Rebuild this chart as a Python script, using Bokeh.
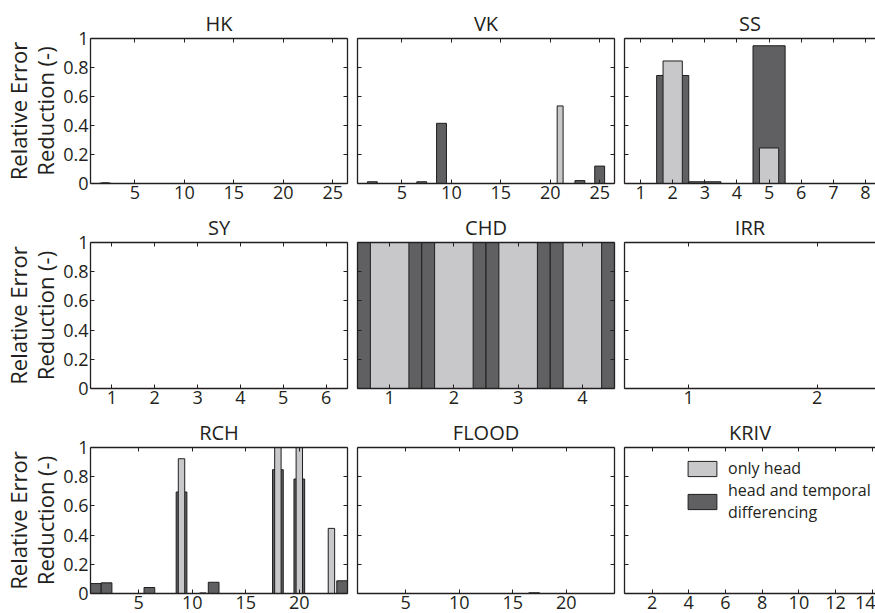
from bokeh.plotting import figure
from bokeh.models import (Range1d, FixedTicker, LinearAxis, CustomJSTickFormatter,
                          Legend, LegendItem)
from bokeh.layouts import row, column
from bokeh.embed import file_html
from bokeh.resources import INLINE

# ---------------- data ----------------
panel_names = ["HK", "VK", "SS", "SY", "CHD", "IRR", "RCH", "FLOOD", "KRIV"]
series_names = ["only head", "head and temporal\ndifferencing"]

hk_head = [0, 0.003, 0, 0, 0, 0, 0, 0, 0, 0, 0, 0, 0, 0, 0, 0, 0, 0, 0, 0, 0, 0, 0, 0, 0, 0]
hk_diff = [0, 0.004, 0, 0, 0, 0, 0, 0, 0, 0, 0, 0, 0, 0, 0, 0, 0, 0, 0, 0, 0, 0, 0, 0, 0, 0]

vk_head = [0, 0, 0, 0, 0, 0, 0, 0, 0, 0, 0, 0, 0, 0, 0, 0, 0, 0, 0, 0, 0.535, 0, 0, 0, 0, 0]
vk_diff = [0, 0.012, 0, 0, 0, 0, 0.012, 0, 0.415, 0, 0, 0, 0, 0, 0, 0, 0, 0, 0, 0, 0, 0, 0.02, 0, 0.12, 0]

ss_head = [0, 0.845, 0, 0, 0.245, 0, 0, 0]
ss_diff = [0, 0.745, 0.012, 0, 0.95, 0, 0, 0]

sy_head = [0, 0, 0, 0, 0, 0]
sy_diff = [0, 0, 0, 0, 0, 0]

chd_head = [1, 1, 1, 1]
chd_diff = [1, 1, 1, 1]

irr_head = [0, 0]
irr_diff = [0, 0]

rch_head = [0, 0, 0, 0, 0, 0, 0, 0, 0.923, 0, 0.004, 0, 0, 0, 0, 0, 0, 1.0, 0, 1.0, 0, 0, 0.446, 0]
rch_diff = [0.068, 0.073, 0, 0, 0, 0.041, 0, 0, 0.695, 0, 0, 0.077, 0, 0, 0, 0, 0, 0.848, 0, 0.784, 0, 0, 0, 0.087]

flood_head = [0, 0, 0, 0, 0, 0, 0, 0, 0, 0, 0, 0, 0, 0, 0, 0, 0, 0, 0, 0, 0, 0, 0, 0]
flood_diff = [0, 0, 0, 0, 0, 0, 0, 0, 0, 0, 0, 0, 0, 0, 0, 0, 0.005, 0, 0, 0, 0, 0, 0, 0]

kriv_head = [0, 0, 0, 0, 0, 0, 0, 0, 0, 0, 0, 0, 0, 0]
kriv_diff = [0, 0, 0, 0, 0, 0, 0, 0, 0, 0, 0, 0, 0, 0]

hk_ticks = [5, 10, 15, 20, 25]
vk_ticks = [5, 10, 15, 20, 25]
ss_ticks = [1, 2, 3, 4, 5, 6, 7, 8]
sy_ticks = [1, 2, 3, 4, 5, 6]
chd_ticks = [1, 2, 3, 4]
irr_ticks = [1, 2]
rch_ticks = [5, 10, 15, 20]
flood_ticks = [5, 10, 15, 20]
kriv_ticks = [2, 4, 6, 8, 10, 12, 14]
y_ticks = [0, 0.2, 0.4, 0.6, 0.8, 1]

panel_head = [hk_head, vk_head, ss_head, sy_head, chd_head, irr_head, rch_head, flood_head, kriv_head]
panel_diff = [hk_diff, vk_diff, ss_diff, sy_diff, chd_diff, irr_diff, rch_diff, flood_diff, kriv_diff]
panel_ticks = [hk_ticks, vk_ticks, ss_ticks, sy_ticks, chd_ticks, irr_ticks, rch_ticks, flood_ticks, kriv_ticks]

# ---------------- styling ----------------
FONT = "Open Sans"
TXT = "#231f20"
LIGHT = "#c8c8ca"
DARK = "#606062"
EDGE = "#1e1e1e"
AXC = "#231f20"

FRAME_W = 257
COL3_W = 251
frame_h = [145, 147, 147]
top_b = [38, 31, 31]
bot_b = [27, 27, 27]

fmt_y = CustomJSTickFormatter(code="return String(Math.round(tick*10)/10);")
fmt_blank = CustomJSTickFormatter(code="return '';")


def style_axis(ax, ticks, labels):
    ax.ticker = FixedTicker(ticks=ticks)
    ax.major_tick_in = 4
    ax.major_tick_out = 0
    ax.minor_tick_in = 0
    ax.minor_tick_out = 0
    ax.axis_line_color = AXC
    ax.axis_line_width = 1.3
    ax.major_tick_line_color = AXC
    ax.major_tick_line_width = 1
    ax.major_label_text_font = FONT
    ax.major_label_text_color = TXT
    if labels:
        ax.major_label_text_font_size = "18px"
        ax.major_label_standoff = 2
    else:
        ax.formatter = fmt_blank
        ax.major_label_text_font_size = "8px"
        ax.major_label_standoff = 0
        ax.axis_label_standoff = 0


figs = []
for i, name in enumerate(panel_names):
    r, c = divmod(i, 3)
    head = panel_head[i]
    diff = panel_diff[i]
    n = len(head)
    xs = list(range(1, n + 1))

    if c == 0:
        width = 90 + FRAME_W + 5
        bl, br = 90, 5
        xend = n + 0.5
    elif c == 1:
        width = 5 + FRAME_W + 5
        bl, br = 5, 5
        xend = n + 0.5
    else:
        width = 5 + COL3_W
        bl, br = 5, 0
        xend = 0.5 + n * COL3_W / FRAME_W
    height = top_b[r] + frame_h[r] + bot_b[r]

    p = figure(width=width, height=height, output_backend="svg", toolbar_location=None,
               x_range=Range1d(0.5, xend), y_range=Range1d(0, 1),
               x_axis_location=None, y_axis_location=None,
               min_border_left=bl, min_border_right=br,
               min_border_top=top_b[r], min_border_bottom=bot_b[r],
               title=name)
    p.outline_line_color = None
    p.xgrid.visible = False
    p.ygrid.visible = False
    p.background_fill_color = "white"
    p.border_fill_color = "white"
    p.title.align = "center"
    p.title.text_font = FONT
    p.title.text_font_size = "20px"
    p.title.text_font_style = "normal"
    p.title.text_color = TXT
    p.title.standoff = 3

    rd = p.vbar(x=xs, top=diff, bottom=0, width=1.0, fill_color=DARK,
                line_color=EDGE, line_width=1)
    rh = p.vbar(x=xs, top=head, bottom=0, width=0.6, fill_color=LIGHT,
                line_color=EDGE, line_width=1)

    bx = LinearAxis()
    style_axis(bx, panel_ticks[i], True)
    p.add_layout(bx, "below")

    tx = LinearAxis()
    style_axis(tx, panel_ticks[i], False)
    p.add_layout(tx, "above")

    ly = LinearAxis()
    if c == 0:
        style_axis(ly, y_ticks, True)
        ly.formatter = fmt_y
        ly.axis_label = "Relative Error\nReduction (-)"
        ly.axis_label_text_font = FONT
        ly.axis_label_text_font_size = "22px"
        ly.axis_label_text_font_style = "normal"
        ly.axis_label_text_color = TXT
        ly.axis_label_text_line_height = 0.9
        ly.axis_label_standoff = 0
    else:
        style_axis(ly, y_ticks, False)
    p.add_layout(ly, "left")

    if c < 2:
        ry = LinearAxis()
        style_axis(ry, y_ticks, False)
        p.add_layout(ry, "right")

    if name == "KRIV":
        leg = Legend(items=[LegendItem(label=series_names[0], renderers=[rh]),
                            LegendItem(label=series_names[1], renderers=[rd])],
                     location=(60, 70))
        leg.glyph_width = 36
        leg.glyph_height = 19
        leg.label_standoff = 8
        leg.label_text_font = FONT
        leg.label_text_font_size = "16px"
        leg.label_text_color = TXT
        leg.label_text_line_height = 1.35
        leg.padding = 0
        leg.margin = 0
        leg.spacing = 0
        leg.border_line_color = None
        leg.background_fill_alpha = 0
        p.add_layout(leg, "center")

    figs.append(p)

layout = column(row(figs[0], figs[1], figs[2]),
                row(figs[3], figs[4], figs[5]),
                row(figs[6], figs[7], figs[8]))

open("out.html", "w").write(file_html(layout, INLINE))
